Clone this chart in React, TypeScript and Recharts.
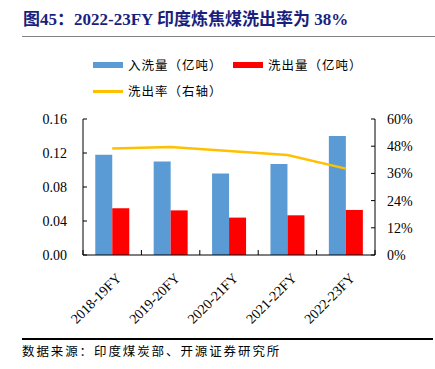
import React from "react";
import { ComposedChart, Bar, Line, XAxis, YAxis } from "recharts";

const categories = ["2018-19FY", "2019-20FY", "2020-21FY", "2021-22FY", "2022-23FY"];
const washedIn = [0.118, 0.110, 0.096, 0.107, 0.140];
const washedOut = [0.055, 0.0525, 0.044, 0.0467, 0.053];
const yieldRate = [0.47, 0.476, 0.459, 0.441, 0.381];
const leftTicks = [0, 0.04, 0.08, 0.12, 0.16];
const rightTicks = [0, 0.12, 0.24, 0.36, 0.48, 0.6];
const boundaryTicks = [0, 1, 2, 3, 4, 5];
const seriesNames = ["入洗量（亿吨）", "洗出量（亿吨）", "洗出率（右轴）"];
const titleText = "图45：2022-23FY 印度炼焦煤洗出率为 38%";
const sourceText = "数据来源：印度煤炭部、开源证券研究所";

const data = categories.map((c, i) => ({
  name: c,
  idx: i + 0.5,
  inW: washedIn[i],
  outW: washedOut[i],
  rate: yieldRate[i],
}));

const BLUE = "#5b9bd5";
const RED = "#ff0000";
const GOLD = "#ffc000";
const SERIF = "'Liberation Serif', 'Times New Roman', serif";
const CJK = "'Liberation Serif', 'Noto Sans CJK SC', serif";

const XTick = (props: any) => {
  const { x, y, payload } = props;
  return (
    <g transform={`translate(${x + 3},${y + 9})`}>
      <text
        transform="rotate(-45)"
        textAnchor="end"
        dy="0.7em"
        fontFamily={SERIF}
        fontSize={14}
        fill="#000"
      >
        {payload.value}
      </text>
    </g>
  );
};

const EmptyTick = () => <g />;

export default function App() {
  return (
    <div
      style={{
        position: "absolute",
        left: 0,
        top: 0,
        width: 435,
        height: 369,
        background: "#fff",
        overflow: "hidden",
      }}
    >
      <div
        style={{
          position: "absolute",
          left: 23,
          top: 9,
          fontFamily: CJK,
          fontWeight: "bold",
          fontSize: 17,
          color: "#1a1f7e",
          whiteSpace: "nowrap",
          lineHeight: "22px",
        }}
      >
        {titleText}
      </div>
      <div
        style={{
          position: "absolute",
          left: 22,
          top: 36,
          width: 413,
          height: 1,
          background: "#808080",
        }}
      />
      <div
        style={{
          position: "absolute",
          left: 0,
          top: 0,
          fontFamily: "'Noto Sans CJK SC', sans-serif",
          fontSize: 12.5,
          color: "#000",
        }}
      >
        <div style={{ position: "absolute", left: 93, top: 62, width: 30, height: 6, background: BLUE }} />
        <div style={{ position: "absolute", left: 128, top: 56, whiteSpace: "nowrap", letterSpacing: 1, lineHeight: "18px" }}>
          {seriesNames[0]}
        </div>
        <div style={{ position: "absolute", left: 233, top: 62, width: 30, height: 6, background: RED }} />
        <div style={{ position: "absolute", left: 268, top: 56, whiteSpace: "nowrap", letterSpacing: 1, lineHeight: "18px" }}>
          {seriesNames[1]}
        </div>
        <div style={{ position: "absolute", left: 93, top: 90, width: 30, height: 2.5, background: GOLD }} />
        <div style={{ position: "absolute", left: 128, top: 82, whiteSpace: "nowrap", letterSpacing: 1, lineHeight: "18px" }}>
          {seriesNames[2]}
        </div>
      </div>
      <div style={{ position: "absolute", left: 0, top: 0 }}>
        <ComposedChart
          width={435}
          height={369}
          data={data}
          margin={{ top: 119, right: 10, left: 23, bottom: 54 }}
          barCategoryGap="21%"
          barGap={0}
        >
          <XAxis
            dataKey="name"
            xAxisId="cat"
            height={60}
            interval={0}
            tickLine={false}
            axisLine={{ stroke: "#000", strokeWidth: 1 }}
            tick={<XTick />}
          />
          <XAxis
            xAxisId="bnd"
            type="number"
            dataKey="idx"
            domain={[0, 5]}
            ticks={boundaryTicks}
            mirror
            tick={<EmptyTick />}
            axisLine={false}
            tickSize={5}
            tickLine={{ stroke: "#000", strokeWidth: 1 }}
          />
          <YAxis
            yAxisId="left"
            orientation="left"
            width={60}
            domain={[0, 0.16]}
            ticks={leftTicks}
            tickFormatter={(v: number) => v.toFixed(2)}
            tickSize={-4}
            tickMargin={20}
            axisLine={{ stroke: "#000" }}
            tickLine={{ stroke: "#000" }}
            tick={{ fontFamily: SERIF, fontSize: 14, fill: "#000" }}
          />
          <YAxis
            yAxisId="right"
            orientation="right"
            width={50}
            domain={[0, 0.6]}
            ticks={rightTicks}
            tickFormatter={(v: number) => `${Math.round(v * 100)}%`}
            tickSize={-4}
            tickMargin={16}
            axisLine={{ stroke: "#000" }}
            tickLine={{ stroke: "#000" }}
            tick={{ fontFamily: SERIF, fontSize: 14, fill: "#000", textAnchor: "start" }}
          />
          <Bar dataKey="inW" xAxisId="cat" yAxisId="left" fill={BLUE} isAnimationActive={false} />
          <Bar dataKey="outW" xAxisId="cat" yAxisId="left" fill={RED} isAnimationActive={false} />
          <Line
            dataKey="rate"
            xAxisId="cat"
            yAxisId="right"
            stroke={GOLD}
            strokeWidth={2.5}
            dot={false}
            type="linear"
            isAnimationActive={false}
          />
        </ComposedChart>
      </div>
      <div
        style={{
          position: "absolute",
          left: 22,
          top: 338,
          width: 411,
          height: 1.5,
          background: "#000",
        }}
      />
      <div
        style={{
          position: "absolute",
          left: 22,
          top: 342,
          fontFamily: "'Noto Sans CJK SC', sans-serif",
          fontSize: 12.5,
          letterSpacing: 1.9,
          whiteSpace: "nowrap",
          lineHeight: "18px",
          color: "#000",
        }}
      >
        {sourceText}
      </div>
    </div>
  );
}
